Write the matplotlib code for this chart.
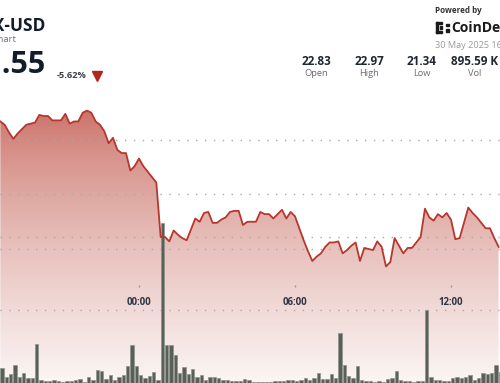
import numpy as np
import pandas as pd
import matplotlib
matplotlib.use('Agg')
import matplotlib.pyplot as plt
import matplotlib.dates as mdates
from matplotlib.patches import Rectangle

plt.rcParams['font.family'] = ['Open Sans', 'DejaVu Sans']

# values, one point / bar every 10 minutes
price = [22.67, 22.64, 22.57, 22.51, 22.56, 22.60, 22.64, 22.65, 22.66, 22.73,
         22.72, 22.72, 22.68, 22.68, 22.68, 22.74, 22.65, 22.67, 22.67, 22.75,
         22.77, 22.75, 22.67, 22.64, 22.58, 22.47, 22.52, 22.41, 22.38, 22.38,
         22.22, 22.26, 22.33, 22.26, 22.21, 22.16, 22.11, 21.61, 21.61, 21.57,
         21.67, 21.63, 21.60, 21.58, 21.68, 21.78, 21.75, 21.83, 21.84, 21.74,
         21.74, 21.77, 21.79, 21.84, 21.85, 21.85, 21.72, 21.75, 21.75, 21.75,
         21.84, 21.82, 21.82, 21.78, 21.82, 21.86, 21.78, 21.84, 21.80, 21.69,
         21.58, 21.48, 21.39, 21.43, 21.46, 21.52, 21.56, 21.56, 21.57, 21.46,
         21.49, 21.53, 21.56, 21.39, 21.51, 21.50, 21.49, 21.57, 21.52, 21.34,
         21.38, 21.60, 21.53, 21.46, 21.51, 21.51, 21.56, 21.61, 21.87, 21.79,
         21.76, 21.82, 21.79, 21.83, 21.77, 21.59, 21.60, 21.74, 21.88, 21.83,
         21.79, 21.74, 21.69, 21.69, 21.60, 21.52]
volume = [8.2, 3.3, 4.9, 9.9, 3.3, 5.5, 2.7, 2.7, 21.4, 1.6,
          1.1, 1.1, 1.6, 1.1, 0.5, 1.1, 1.1, 1.6, 2.2, 0.5,
          3.3, 1.6, 7.1, 6.6, 2.2, 4.4, 1.6, 3.3, 4.4, 9.3,
          20.8, 9.3, 4.4, 2.7, 3.8, 6.0, 1.6, 87.7, 20.8, 20.8,
          15.3, 5.5, 8.8, 4.9, 7.7, 3.3, 4.4, 1.6, 3.3, 3.3,
          2.7, 1.6, 1.6, 1.1, 1.1, 1.1, 2.2, 1.6,
          0.5, 0.5, 0.5, 0.5, 0.5, 1.1, 1.1, 1.1, 1.6, 1.6,
          1.1, 1.6, 2.7, 1.6, 2.7, 5.5, 2.2, 2.2, 4.9, 2.7,
          27.4, 9.9, 3.8, 2.7, 9.3, 1.6, 1.1, 1.1, 0.5, 1.1,
          0.5, 2.2, 2.7, 6.6, 1.6, 1.1, 1.1, 0.5, 1.1, 1.1,
          40.0, 3.3, 1.6, 1.6, 1.1, 1.1, 2.7, 3.3, 2.7, 3.3,
          4.4, 1.6, 2.7, 5.5, 4.9, 5.5, 9.9, 6.0]
price_grid = [21.5, 22.0, 22.5]
volume_grid = [40, 80]
ticker = 'AVAX-USD'
subtitle = 'AVAX Chart'
last_price = '21.55'
change = '-5.62%'
stat_values = ['22.83', '22.97', '21.34', '895.59 K']
stat_labels = ['Open', 'High', 'Low', 'Vol']
stamp = '30 May 2025 16:00 UTC'

times = pd.date_range('2025-05-29 18:40', periods=len(price), freq='10min')
x = mdates.date2num(times)
step = 1 / 144

W, H = 500, 383
fig = plt.figure(figsize=(5, 3.83), dpi=100)

px = 4.333                       # pixels per 10 minutes
xlo = x[0] - 0.33 / px * step
xhi = xlo + W / px * step
plo, phi = 22.5 - 243 / 109, 22.5 + 140 / 109
vhi = H / 73 * 40

dots = (0, (1, 5.4))

# bottom layer: gradient area + price grid + time axis
ax = fig.add_axes([0, 0, 1, 1])
ax.set_xlim(xlo, xhi)
ax.set_ylim(plo, phi)
area = ax.fill_between(x, price, plo, facecolor='none', edgecolor='none')
top = np.array([198, 100, 90]) / 255
bot = np.array([251, 246, 245]) / 255
f = np.clip((np.arange(H) - 100) / 283, 0, 1) ** 0.7
grad = top + (bot - top) * f[:, None]
im = ax.imshow(grad[:, None, :], extent=(xlo, xhi, plo, phi), aspect='auto',
               origin='upper', zorder=1)
im.set_clip_path(area.get_paths()[0], transform=ax.transData)
ax.set_yticks(price_grid)
ax.grid(axis='y', color='#a9a9a9', lw=1.0, linestyle=dots)
ax.set_axisbelow(False)
for s in ax.spines.values():
    s.set_visible(False)
ax.spines['bottom'].set_position(('axes', (H - 285) / H))
ax.xaxis.set_major_locator(mdates.HourLocator(byhour=[0, 6, 12]))
ax.xaxis.set_major_formatter(mdates.DateFormatter('%H:%M'))
ax.tick_params(axis='x', length=1.5, width=1, color='#9a9a9a', pad=7,
               labelsize=6.9, labelcolor='#2d3442')
for lab in ax.get_xticklabels():
    lab.set_fontweight('bold')
ax.tick_params(axis='y', length=0, labelleft=False)

# middle layer: volume
axv = fig.add_axes([0, 0, 1, 1])
axv.patch.set_visible(False)
axv.set_xlim(xlo, xhi)
axv.set_ylim(0, vhi)
axv.bar(x, volume, width=0.76 * step, align='edge', color='#596058',
        edgecolor='#8d938c', linewidth=0.5)
axv.set_yticks(volume_grid)
axv.grid(axis='y', color='#a9a9a9', lw=1.0, linestyle=dots)
axv.set_axisbelow(True)
axv.set_xticks([])
axv.tick_params(axis='y', length=0, labelleft=False)
for s in axv.spines.values():
    s.set_visible(False)

# top layer: price line
axl = fig.add_axes([0, 0, 1, 1])
axl.patch.set_visible(False)
axl.set_xlim(xlo, xhi)
axl.set_ylim(plo, phi)
axl.plot(x, price, color='#b8362b', lw=1.3)
axl.set_xticks([])
axl.set_yticks([])
for s in axl.spines.values():
    s.set_visible(False)


def fx(v):
    return v / W


def fy(v):
    return 1 - v / H


# header, left (cut by the left edge, as in the source)
fig.text(fx(45), fy(31), ticker, ha='right', va='baseline', fontsize=12.5,
         fontweight='bold', color='#141b2b')
fig.text(fx(16), fy(42), subtitle, ha='right', va='baseline', fontsize=6.8,
         color='#6b7280')
fig.text(fx(46), fy(72.7), last_price, ha='right', va='baseline', fontsize=22,
         fontweight='bold', color='#141b2b')
fig.text(fx(57), fy(78.3), change, ha='left', va='baseline', fontsize=6.7,
         fontweight='bold', color='#3a3f4a')
fig.lines.append(plt.Line2D([fx(96.5)], [fy(75.5)], marker='v', markersize=6.5,
                            color='#b3261e', transform=fig.transFigure))

# header, right
for cx, v, lab in zip([316.3, 369.3, 421.7, 474.4], stat_values, stat_labels):
    fig.text(fx(cx), fy(65), v, ha='center', va='baseline', fontsize=8.4,
             fontweight='bold', color='#1f2633')
    fig.text(fx(cx), fy(76.5), lab, ha='center', va='baseline', fontsize=6.7,
             color='#6b6b6b')
fig.text(fx(435), fy(13), 'Powered by', ha='left', va='baseline', fontsize=5.8,
         fontweight='bold', color='#333333')
fig.text(fx(451.5), fy(32.5), 'CoinDesk', ha='left', va='baseline', fontsize=10,
         fontweight='bold', color='#1a1a1a')
for (rx, ry, rw, rh) in [(436, 22, 2, 11), (436, 22, 6, 2), (436, 31, 6, 2),
                         (440, 26, 2, 3), (446, 23.5, 2.5, 2.5), (446, 29, 2.5, 2.5)]:
    fig.patches.append(Rectangle((fx(rx), fy(ry + rh)), rw / W, rh / H,
                                 color='#1a1a1a', transform=fig.transFigure))
fig.text(fx(435), fy(48.5), stamp, ha='left', va='baseline', fontsize=6.6,
         color='#9a9a9a')

fig.savefig('out.png', dpi=100)
